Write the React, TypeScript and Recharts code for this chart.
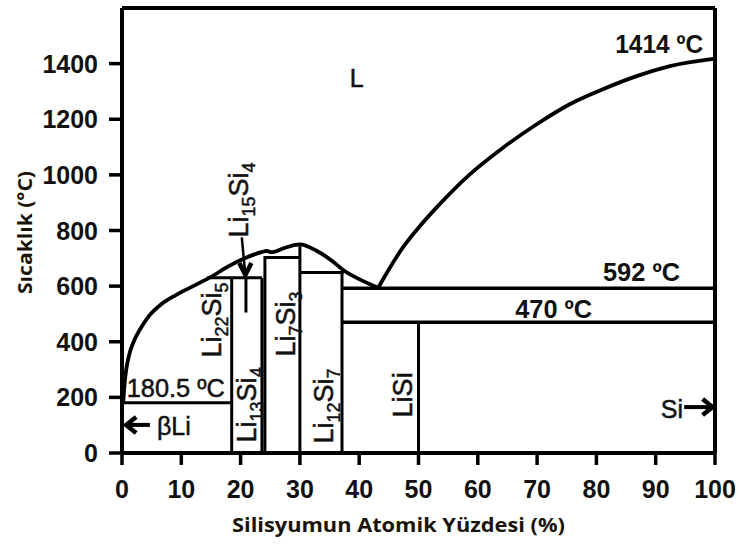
import React from "react";
import { ComposedChart, Line, XAxis, YAxis, ReferenceLine, ReferenceDot } from "recharts";

// Li-Si phase diagram: temperature (°C) vs atomic % Si.
const X_TICKS = [0, 10, 20, 30, 40, 50, 60, 70, 80, 90, 100];
const Y_TICKS = [0, 200, 400, 600, 800, 1000, 1200, 1400];

// liquidus, Li-rich side (through the Li7Si3 maximum down to the eutectic)
const LIQUIDUS_LI = [
  { x: 0.2, y: 181 },
  { x: 0.4, y: 240 },
  { x: 0.7, y: 298 },
  { x: 1.2, y: 352 },
  { x: 2, y: 402 },
  { x: 3, y: 443 },
  { x: 4.6, y: 494 },
  { x: 6.5, y: 533 },
  { x: 9, y: 567 },
  { x: 12, y: 600 },
  { x: 15, y: 633 },
  { x: 18, y: 672 },
  { x: 21, y: 703 },
  { x: 23.5, y: 722 },
  { x: 24.4, y: 727 },
  { x: 25.2, y: 722 },
  { x: 27.5, y: 738 },
  { x: 30, y: 750 },
  { x: 32.8, y: 727 },
  { x: 35.6, y: 688 },
  { x: 37.3, y: 658 },
  { x: 40, y: 625 },
  { x: 43.2, y: 594 },
];
// liquidus, Si-rich side
const LIQUIDUS_SI = [
  { x: 43.2, y: 594 },
  { x: 45, y: 660 },
  { x: 47.4, y: 740 },
  { x: 50, y: 810 },
  { x: 53.1, y: 884 },
  { x: 58.7, y: 1003 },
  { x: 64.2, y: 1097 },
  { x: 70, y: 1183 },
  { x: 75.5, y: 1254 },
  { x: 81.1, y: 1308 },
  { x: 86.8, y: 1355 },
  { x: 92.4, y: 1391 },
  { x: 100, y: 1418 },
];

const LI_MELT = [{ x: 0, y: 180.5 }, { x: 18.5, y: 180.5 }];
const LI22SI5 = [{ x: 18.5, y: 0 }, { x: 18.5, y: 630 }];
const PERI_630 = [{ x: 14.3, y: 630 }, { x: 23.6, y: 630 }];
const LI13SI4 = [{ x: 23.6, y: 0 }, { x: 23.6, y: 630 }];
const LI7SI3_BOX = [{ x: 24.1, y: 0 }, { x: 24.1, y: 703 }, { x: 30, y: 703 }];
const LI7SI3 = [{ x: 30, y: 0 }, { x: 30, y: 750 }];
const PERI_649 = [{ x: 30, y: 649 }, { x: 37.4, y: 649 }];
const LI12SI7 = [{ x: 37.1, y: 0 }, { x: 37.1, y: 649 }];
const EUT_592 = [{ x: 37.1, y: 592 }, { x: 100, y: 592 }];
const PERI_470 = [{ x: 37.1, y: 470 }, { x: 100, y: 470 }];
const LISI = [{ x: 50, y: 0 }, { x: 50, y: 470 }];

// pointer arrows
const LI15SI4_ARROW = [{ x: 20.2, y: 775 }, { x: 20.8, y: 640 }];
const LI15SI4_MARK = [{ x: 20.9, y: 630 }, { x: 20.9, y: 505 }];
const BLI_ARROW = [{ x: 4.7, y: 101 }, { x: 0.7, y: 101 }];
const SI_ARROW = [{ x: 94.8, y: 165 }, { x: 99.6, y: 165 }];

const INK = "#000";
const TXT = "#111";
const FONT = "'Liberation Sans', Arial, sans-serif";
const TITLE_FONT = "'Open Sans', 'Noto Sans', sans-serif";

type Dir = "down" | "left" | "right";

function headDot(dir: Dir, n: number) {
  return (p: any) => {
    const { cx, cy, index } = p;
    if (index !== n - 1) return <g key={`d${index}`} />;
    let d = "";
    if (dir === "down") d = `M${cx - 6},${cy - 12} L${cx},${cy} L${cx + 6},${cy - 12}`;
    if (dir === "left") d = `M${cx + 10},${cy - 8} L${cx},${cy} L${cx + 10},${cy + 8}`;
    if (dir === "right") d = `M${cx - 10},${cy - 8} L${cx},${cy} L${cx - 10},${cy + 8}`;
    return <path key={`d${index}`} d={d} stroke={INK} strokeWidth={4.5} fill="none" />;
  };
}

function center(vb: any) {
  return { cx: vb.x + (vb.width || 0) / 2, cy: vb.y + (vb.height || 0) / 2 };
}

function Txt(props: any) {
  const { viewBox, text, anchor = "start", size = 25, bold = false, len } = props;
  const { cx, cy } = center(viewBox);
  return (
    <text
      x={cx}
      y={cy}
      textAnchor={anchor}
      fontFamily={FONT}
      fontSize={size}
      fontWeight={bold ? 700 : 400}
      fill={TXT}
      stroke={bold ? "none" : TXT}
      strokeWidth={bold ? 0 : 0.5}
      textLength={len}
      lengthAdjust="spacingAndGlyphs"
    >
      {text}
    </text>
  );
}

// rotated chemical formula: parts alternate element / subscript
function Formula(props: any) {
  const { viewBox, parts } = props;
  const { cx, cy } = center(viewBox);
  return (
    <text
      x={cx}
      y={cy}
      transform={`rotate(-90 ${cx} ${cy})`}
      textAnchor="middle"
      fontFamily={FONT}
      fontSize={27}
      fill={TXT}
      stroke={TXT}
      strokeWidth={0.5}
    >
      {parts.map((s: string, i: number) =>
        i % 2 === 0 ? (
          <tspan key={i} dy={i === 0 ? 0 : -7}>
            {s}
          </tspan>
        ) : (
          <tspan key={i} fontSize={18} dy={7}>
            {s}
          </tspan>
        ),
      )}
    </text>
  );
}

function YTick(props: any) {
  const { x, y, payload } = props;
  return (
    <text x={x} y={y} dy="0.36em" textAnchor="end" fontFamily={FONT} fontSize={25} fontWeight={700} fill={TXT}>
      {payload.value}
    </text>
  );
}

function XTick(props: any) {
  const { x, y, payload } = props;
  return (
    <text x={x} y={y} dy="0.72em" textAnchor="middle" fontFamily={FONT} fontSize={25} fontWeight={700} fill={TXT}>
      {payload.value}
    </text>
  );
}

function YTitle(props: any) {
  const { viewBox } = props;
  const cy = viewBox.y + viewBox.height / 2 + 2;
  const cx = 25;
  return (
    <text
      x={cx}
      y={cy}
      transform={`rotate(-90 ${cx} ${cy})`}
      textAnchor="middle"
      dominantBaseline="central"
      fontFamily={TITLE_FONT}
      fontWeight={700}
      fontSize={19}
      fill="#1a1408"
      textLength={123}
      lengthAdjust="spacingAndGlyphs"
    >
      Sıcaklık (°C)
    </text>
  );
}

function XTitle(props: any) {
  const { viewBox } = props;
  const cx = viewBox.x + viewBox.width / 2 - 20;
  return (
    <text
      x={cx}
      y={532}
      textAnchor="middle"
      fontFamily={TITLE_FONT}
      fontWeight={700}
      fontSize={19}
      fill="#1a1408"
      textLength={333}
      lengthAdjust="spacingAndGlyphs"
    >
      Silisyumun Atomik Yüzdesi (%)
    </text>
  );
}

function seg(data: { x: number; y: number }[], key: string, w = 3, curve = false) {
  return (
    <Line
      key={key}
      data={data}
      dataKey="y"
      type={curve ? "monotone" : "linear"}
      stroke={INK}
      strokeWidth={w}
      dot={false}
      activeDot={false}
      isAnimationActive={false}
    />
  );
}

function arrow(data: { x: number; y: number }[], key: string, dir: Dir, w = 2.5) {
  return (
    <Line
      key={key}
      data={data}
      dataKey="y"
      type="linear"
      stroke={INK}
      strokeWidth={w}
      dot={headDot(dir, data.length)}
      activeDot={false}
      isAnimationActive={false}
    />
  );
}

function mark(x: number, y: number, label: React.ReactElement, key: string) {
  return <ReferenceDot key={key} x={x} y={y} r={0} fill="none" stroke="none" label={label} />;
}

export default function App() {
  return (
    <div style={{ position: "absolute", left: 0, top: 0, width: 741, height: 544, background: "#fff" }}>
      <ComposedChart width={741} height={544} margin={{ top: 8, right: 26, bottom: 31, left: 22 }}>
        <XAxis
          dataKey="x"
          type="number"
          domain={[0, 100]}
          ticks={X_TICKS}
          allowDataOverflow
          height={60}
          tickSize={12}
          tickMargin={15}
          tick={<XTick />}
          axisLine={{ stroke: INK, strokeWidth: 4 }}
          tickLine={{ stroke: INK, strokeWidth: 3.5 }}
          label={<XTitle />}
        />
        <YAxis
          type="number"
          domain={[0, 1600]}
          ticks={Y_TICKS}
          allowDataOverflow
          width={100}
          tickSize={13}
          tickMargin={11}
          tick={<YTick />}
          axisLine={{ stroke: INK, strokeWidth: 4 }}
          tickLine={{ stroke: INK, strokeWidth: 3.5 }}
          label={<YTitle />}
        />
        <ReferenceLine y={1600} stroke={INK} strokeWidth={4} />
        <ReferenceLine x={100} stroke={INK} strokeWidth={4} />

        {seg(LIQUIDUS_LI, "liqLi", 3.8, true)}
        {seg(LIQUIDUS_SI, "liqSi", 3.8, true)}
        {seg(LI_MELT, "liMelt")}
        {seg(LI22SI5, "li22")}
        {seg(PERI_630, "p630")}
        {seg(LI13SI4, "li13")}
        {seg(LI7SI3_BOX, "li7box")}
        {seg(LI7SI3, "li7")}
        {seg(PERI_649, "p649")}
        {seg(LI12SI7, "li12")}
        {seg(EUT_592, "e592", 3.5)}
        {seg(PERI_470, "p470", 3.5)}
        {seg(LISI, "lisi")}
        {seg(LI15SI4_MARK, "li15mark")}
        {arrow(LI15SI4_ARROW, "li15arrow", "down", 2.5)}
        {arrow(BLI_ARROW, "bliArrow", "left", 4)}
        {arrow(SI_ARROW, "siArrow", "right", 4)}

        {mark(38.4, 1317, <Txt text="L" size={25} />, "tL")}
        {mark(98.0, 1439, <Txt text="1414 ºC" anchor="end" bold len={88} />, "t1414")}
        {mark(94.1, 619, <Txt text="592 ºC" anchor="end" bold len={77} />, "t592")}
        {mark(66.3, 486, <Txt text="470 ºC" bold len={77} />, "t470")}
        {mark(0.8, 201, <Txt text="180.5 ºC" size={26} len={98} />, "t180")}
        {mark(5.9, 65, <Txt text="βLi" size={25} />, "tbli")}
        {mark(94.6, 126, <Txt text="Si" anchor="end" size={25} />, "tsi")}

        {mark(16.7, 478, <Formula parts={["Li", "22", "Si", "5"]} />, "f22")}
        {mark(22.6, 173, <Formula parts={["Li", "13", "Si", "4"]} />, "f13")}
        {mark(29.2, 464, <Formula parts={["Li", "7", "Si", "3"]} />, "f7")}
        {mark(35.6, 169, <Formula parts={["Li", "12", "Si", "7"]} />, "f12")}
        {mark(21.2, 910, <Formula parts={["Li", "15", "Si", "4"]} />, "f15")}
        {mark(48.9, 209, <Formula parts={["LiSi"]} />, "fLiSi")}
      </ComposedChart>
    </div>
  );
}
